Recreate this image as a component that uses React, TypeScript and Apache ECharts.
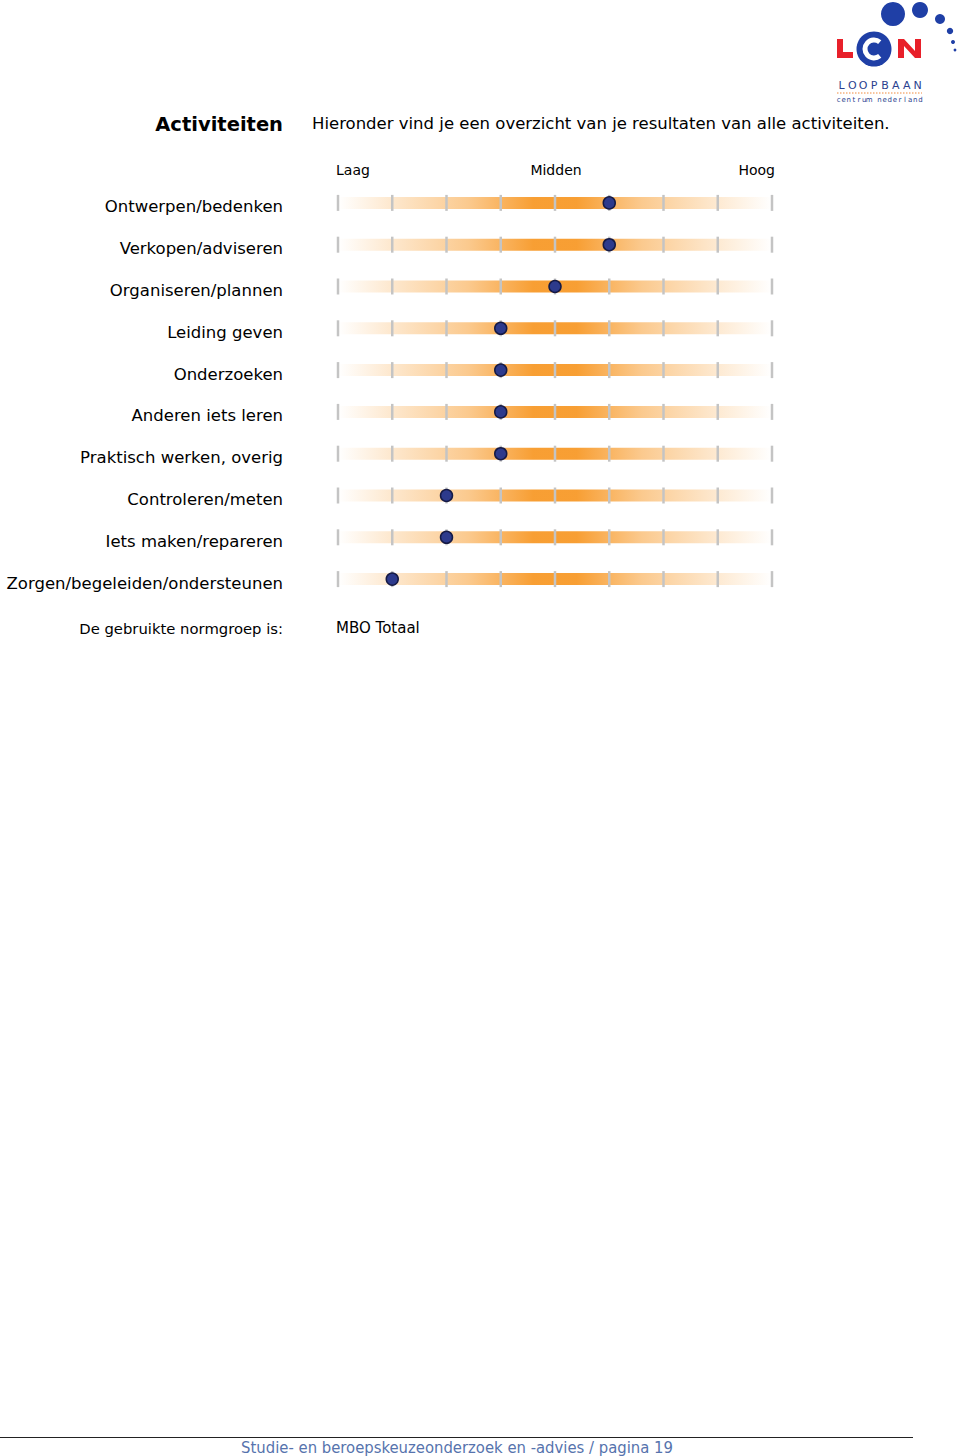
import React, { useEffect, useRef } from "react";
import * as echarts from "echarts";

const categories = [
  "Ontwerpen/bedenken",
  "Verkopen/adviseren",
  "Organiseren/plannen",
  "Leiding geven",
  "Onderzoeken",
  "Anderen iets leren",
  "Praktisch werken, overig",
  "Controleren/meten",
  "Iets maken/repareren",
  "Zorgen/begeleiden/ondersteunen",
];
const scores = [6, 6, 5, 4, 4, 4, 4, 3, 3, 2];
const scaleTicks = [1, 2, 3, 4, 5, 6, 7, 8, 9];
const scaleLabels = ["Laag", "Midden", "Hoog"];
const title = "Activiteiten";
const subtitle = "Hieronder vind je een overzicht van je resultaten van alle activiteiten.";
const normLabel = "De gebruikte normgroep is:";
const normValue = "MBO Totaal";
const footer = "Studie- en beroepskeuzeonderzoek en -advies / pagina 19";
const logoWord = "LOOPBAAN";
const logoSub = "centrum nederland";

const FONT = "DejaVu Sans";

export default function App() {
  const ref = useRef<HTMLDivElement>(null);
  useEffect(() => {
    if (!ref.current) return;
    const chart = echarts.init(ref.current, null, { renderer: "svg" });
    const sMin = scaleTicks[0];
    const sMax = scaleTicks[scaleTicks.length - 1];
    const blue = "#1f3fa6";
    const red = "#e8202a";

    const spacedText = (txt: string, x0: number, x1: number, y: number, size: number) =>
      txt.split("").map((ch, i) => ({
        type: "text",
        x: x0 + ((x1 - x0) * (i + 0.5)) / txt.length,
        y,
        style: { text: ch, align: "center", verticalAlign: "middle", fontSize: size, fontFamily: FONT, fill: "#2b3f8f" },
      }));

    const option: any = {
      animation: false,
      backgroundColor: "#fff",
      grid: { left: 338, right: 188, top: 182, height: 418 },
      xAxis: {
        type: "value",
        min: sMin,
        max: sMax,
        interval: 1,
        show: false,
      },
      yAxis: {
        type: "category",
        inverse: true,
        data: categories,
        axisLine: { show: false },
        axisTick: { show: false },
        splitLine: { show: false },
        axisLabel: {
          margin: 55,
          formatter: "{a|{value}}",
          rich: {
            a: {
              fontSize: 16.5,
              fontFamily: FONT,
              color: "#000",
              padding: [8, 0, 0, 0],
            },
          },
        },
      },
      series: [
        {
          type: "custom",
          data: categories.map((_, i) => [i]),
          encode: { y: 0 },
          z: 1,
          renderItem: (params: any, api: any) => {
            const cat = api.value(0);
            const p1 = api.coord([sMin, cat]);
            const p2 = api.coord([sMax, cat]);
            const h = 12;
            const children: any[] = [
              {
                type: "rect",
                shape: { x: p1[0], y: p1[1] - h / 2, width: p2[0] - p1[0], height: h },
                style: {
                  fill: new echarts.graphic.LinearGradient(0, 0, 1, 0, [
                    { offset: 0, color: "rgba(247,148,29,0)" },
                    { offset: 0.125, color: "rgba(247,148,29,0.22)" },
                    { offset: 0.3, color: "rgba(247,148,29,0.5)" },
                    { offset: 0.45, color: "rgba(247,148,29,0.9)" },
                    { offset: 0.55, color: "rgba(247,148,29,0.9)" },
                    { offset: 0.7, color: "rgba(247,148,29,0.5)" },
                    { offset: 0.875, color: "rgba(247,148,29,0.2)" },
                    { offset: 1, color: "rgba(247,148,29,0)" },
                  ]),
                },
              },
            ];
            scaleTicks.forEach((t) => {
              const p = api.coord([t, cat]);
              children.push({
                type: "line",
                shape: { x1: p[0], y1: p[1] - 8, x2: p[0], y2: p[1] + 8 },
                style: { stroke: "#c4c4c4", lineWidth: 2.5 },
              });
            });
            return { type: "group", children };
          },
        },
        {
          type: "scatter",
          z: 5,
          symbol: "circle",
          symbolSize: 12,
          data: scores.map((v, i) => [v, categories[i]]),
          itemStyle: { color: "#2d3a8c", borderColor: "#151a45", borderWidth: 1.5, opacity: 1 },
        },
      ],
      graphic: [
        {
          type: "text",
          x: 283,
          y: 124,
          style: {
            text: title,
            align: "right",
            verticalAlign: "middle",
            fontSize: 19.5,
            fontWeight: "bold",
            fontFamily: FONT,
            fill: "#000",
          },
        },
        {
          type: "text",
          x: 312,
          y: 123,
          style: {
            text: subtitle,
            align: "left",
            verticalAlign: "middle",
            fontSize: 16.5,
            fontFamily: FONT,
            fill: "#000",
          },
        },
        {
          type: "text",
          x: 336,
          y: 170,
          style: { text: scaleLabels[0], align: "left", verticalAlign: "middle", fontSize: 14, fontFamily: FONT, fill: "#000" },
        },
        {
          type: "text",
          x: 556,
          y: 170,
          style: { text: scaleLabels[1], align: "center", verticalAlign: "middle", fontSize: 14, fontFamily: FONT, fill: "#000" },
        },
        {
          type: "text",
          x: 775,
          y: 170,
          style: { text: scaleLabels[2], align: "right", verticalAlign: "middle", fontSize: 14, fontFamily: FONT, fill: "#000" },
        },
        {
          type: "text",
          x: 283,
          y: 628,
          style: { text: normLabel, align: "right", verticalAlign: "middle", fontSize: 14.8, fontFamily: FONT, fill: "#000" },
        },
        {
          type: "text",
          x: 336,
          y: 628,
          style: { text: normValue, align: "left", verticalAlign: "middle", fontSize: 15, fontFamily: FONT, fill: "#000" },
        },
        {
          type: "line",
          shape: { x1: 0, y1: 1437.5, x2: 913, y2: 1437.5 },
          style: { stroke: "#222", lineWidth: 1 },
        },
        {
          type: "text",
          x: 457,
          y: 1447,
          style: {
            text: footer,
            align: "center",
            verticalAlign: "middle",
            fontSize: 16.5,
            fontFamily: "DejaVu Sans Condensed",
            fill: "#5673ad",
          },
        },
        // logo
        { type: "circle", shape: { cx: 893, cy: 14, r: 12 }, style: { fill: blue } },
        { type: "circle", shape: { cx: 920, cy: 10, r: 8 }, style: { fill: blue } },
        { type: "circle", shape: { cx: 940, cy: 19, r: 5 }, style: { fill: blue } },
        { type: "circle", shape: { cx: 950, cy: 31, r: 3.2 }, style: { fill: blue } },
        { type: "circle", shape: { cx: 953, cy: 42, r: 2 }, style: { fill: blue } },
        { type: "circle", shape: { cx: 955, cy: 50, r: 1.4 }, style: { fill: blue } },
        {
          type: "polygon",
          shape: { points: [[837, 39], [843, 39], [843, 52], [853, 52], [853, 58], [837, 58]] },
          style: { fill: red },
        },
        { type: "circle", shape: { cx: 874, cy: 49, r: 17.5 }, style: { fill: blue } },
        {
          type: "arc",
          shape: { cx: 874, cy: 49, r: 9, startAngle: Math.PI * 0.28, endAngle: -Math.PI * 0.28, clockwise: true },
          style: { stroke: "#fff", lineWidth: 5, fill: null },
        },
        {
          type: "polygon",
          shape: {
            points: [
              [898, 39], [904, 39], [915, 51], [915, 39], [921, 39], [921, 58], [915, 58], [904, 46], [904, 58], [898, 58],
            ],
          },
          style: { fill: red },
        },
        ...spacedText(logoWord, 836, 923, 85, 11),
        {
          type: "line",
          shape: { x1: 837, y1: 93, x2: 922, y2: 93 },
          style: { stroke: "#f08a3c", lineWidth: 1, lineDash: [1.5, 1.5] },
        },
        ...spacedText(logoSub, 836, 923, 100, 7),
      ],
    };
    chart.setOption(option);
    return () => chart.dispose();
  }, []);
  return (
    <div
      ref={ref}
      style={{ position: "absolute", left: 0, top: 0, width: 960, height: 1456 }}
    />
  );
}
